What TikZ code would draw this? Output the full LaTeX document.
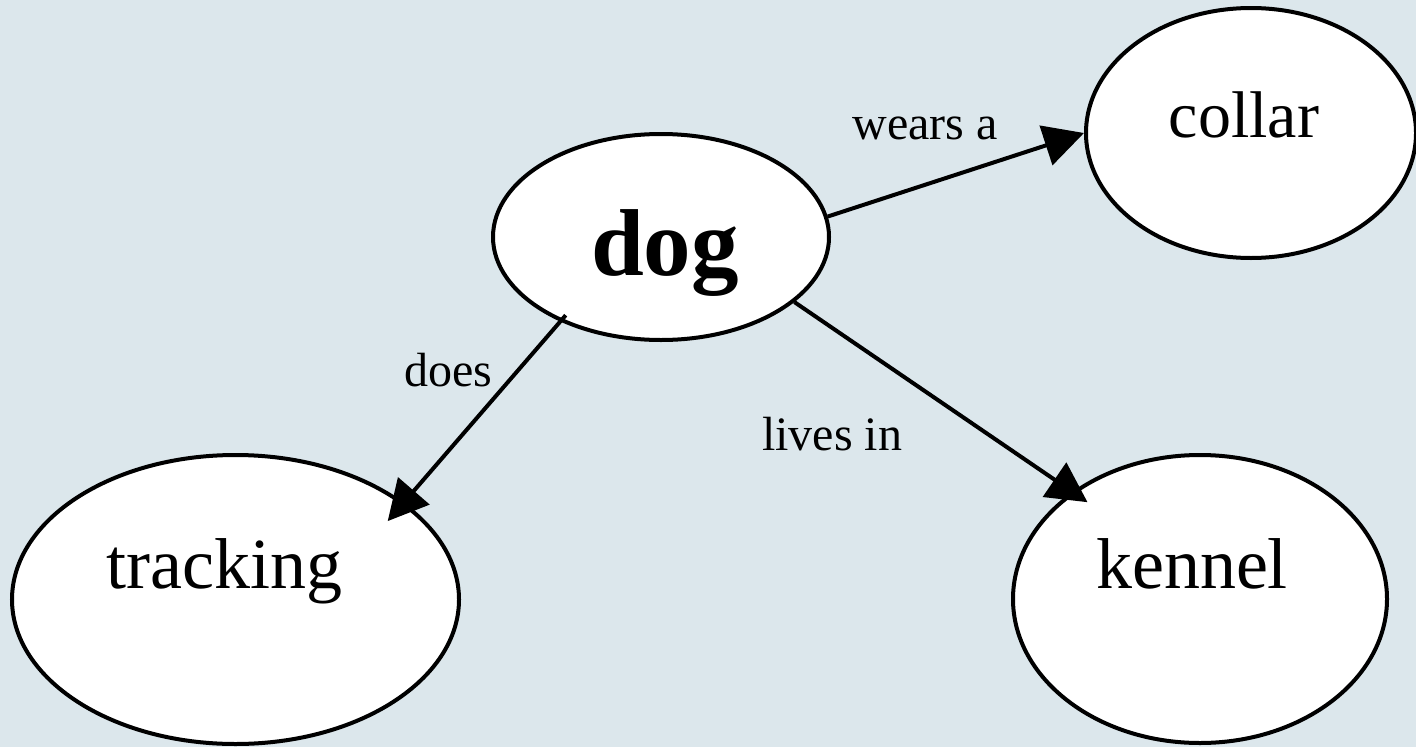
\documentclass[tikz,border=0pt]{standalone}
\usepackage{fontspec}
\setmainfont{Liberation Serif}
\usetikzlibrary{shapes.geometric,arrows.meta}
\definecolor{bg}{RGB}{220,231,236}
\begin{document}
\begin{tikzpicture}[x=1pt,y=-1pt,
  blob/.style={ellipse,draw=black,fill=white,line width=4pt,inner sep=0pt},
  word/.style={anchor=base,inner sep=0pt},
  lbl/.style={anchor=base,inner sep=0pt,font=\fontsize{48}{50}\selectfont},
  edge/.style={line width=4pt,-{Triangle[length=40pt,width=41pt]}}]
\fill[bg] (0,0) rectangle (1416,747);
\useasboundingbox (0,0) rectangle (1416,747);
\node[blob,minimum width=336pt,minimum height=206pt] (dog) at (661,237) {};
\node[blob,minimum width=330pt,minimum height=250pt] (collar) at (1251,133) {};
\node[blob,minimum width=447pt,minimum height=289pt] (tracking) at (235.5,599.5) {};
\node[blob,minimum width=374pt,minimum height=288pt] (kennel) at (1200,599) {};
\node[word,font=\fontsize{95}{100}\selectfont\bfseries] (dogtxt) at (665,275) {dog};
\node[word,font=\fontsize{66}{70}\selectfont] (collartxt) at (1244,137) {collar};
\node[word,font=\fontsize{72}{76}\selectfont] (trackingtxt) at (224.5,588) {tracking};
\node[word,font=\fontsize{72}{76}\selectfont] (kenneltxt) at (1192,588) {kennel};
\draw[edge] (dog.7.2) -- (collar.180.7);
\draw[edge,shorten <=-8.4pt,shorten >=-25pt] (dog.220.3) -- (tracking.30.8);
\draw[edge,shorten >=-18.8pt] (dog.334.3) -- (kennel.140.8);
\node[lbl] (l1) at (925,139) {wears a};
\node[lbl] (l2) at (448,386) {does};
\node[lbl] (l3) at (832,450) {lives in};
\end{tikzpicture}
\end{document}
